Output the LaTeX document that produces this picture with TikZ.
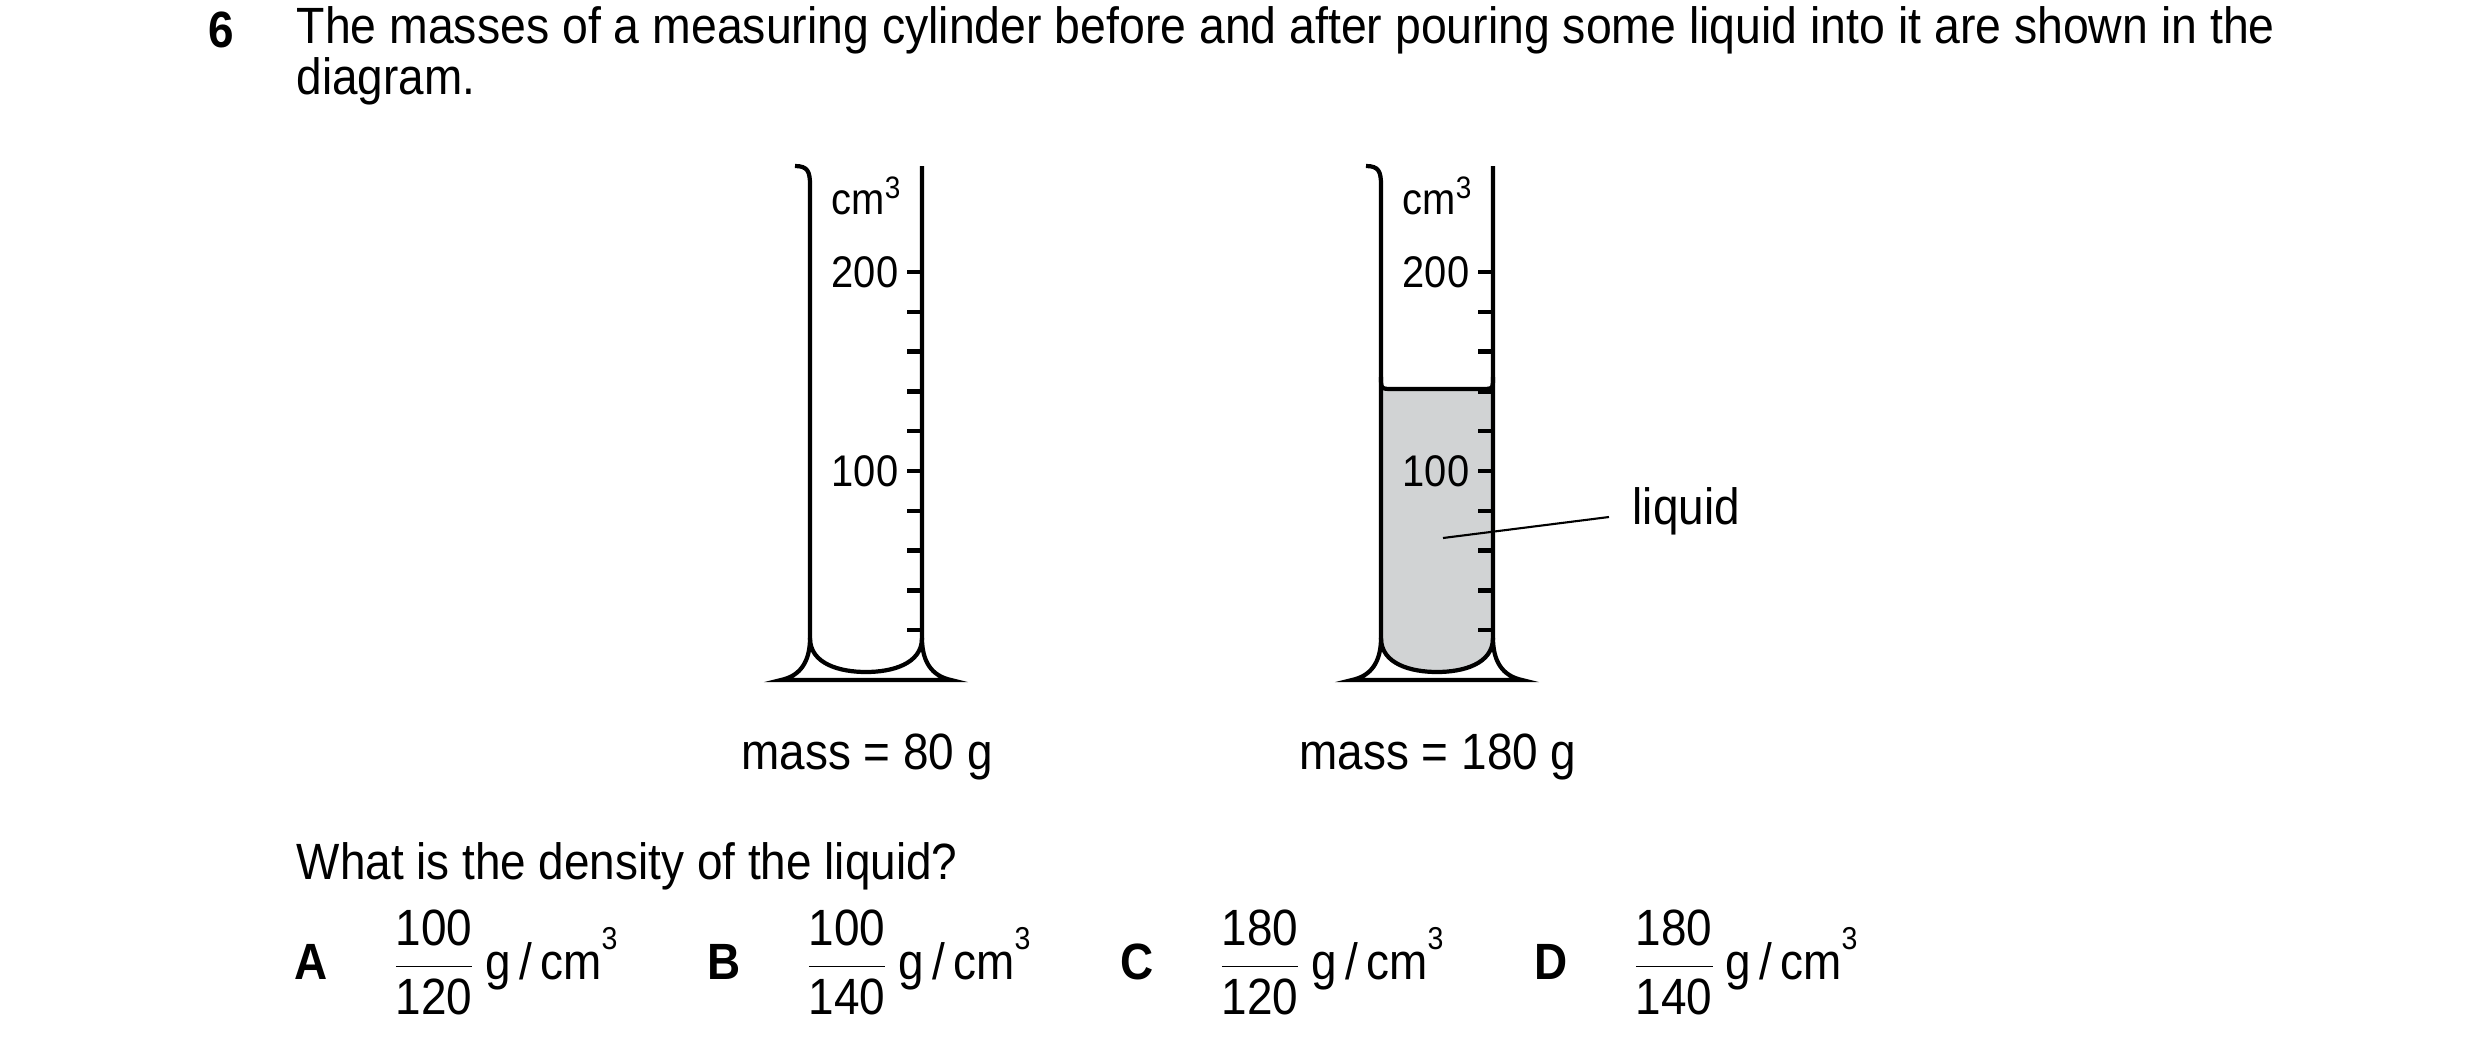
\documentclass[tikz,border=0pt]{standalone}
\usepackage{fontspec}
\setmainfont{Liberation Sans}[FakeStretch=0.9]
\usetikzlibrary{positioning}
\definecolor{liquidgrey}{RGB}{209,211,212}
\tikzset{glass/.style={line width=1.2pt, black},
  txt/.style={inner sep=0pt, font=\fontsize{14.5}{17}\selectfont},
  lbl/.style={inner sep=0pt, font=\fontsize{12.6}{15}\selectfont, anchor=east}}
\begin{document}
\begin{tikzpicture}[x=0.01cm,y=-0.01cm]
\useasboundingbox (0,0) rectangle (2480,1048);
% question
\node[txt, font=\fontsize{14.5}{17}\selectfont\bfseries] (num) at (221,30) {6};
\node[txt, anchor=west] (q1) at (296,30) {\addfontfeature{FakeStretch=0.91}The masses of a measuring cylinder before and after pouring some liquid into it are shown in the};
\node[txt, anchor=west] (q2) at (296,81) {diagram.};
% liquid in the second cylinder
\fill[liquidgrey] (1381,389) -- (1381,638) .. controls (1381,664) and (1411,672) .. (1437,672)
  .. controls (1463,672) and (1493,664) .. (1493,638) -- (1493,389) -- cycle;
\draw[glass] (1381,377) .. controls (1381,389) .. (1393,389) -- (1481,389) .. controls (1493,389) .. (1493,377);
% the two cylinders
\foreach \dx/\name in {810/a,1381/b}{
\begin{scope}[shift={(\dx,0)}]
\draw[glass] (-15,166) .. controls (-2,166) and (0,172) .. (0,185) -- (0,638)
  .. controls (0,664) and (30,672) .. (56,672) .. controls (82,672) and (112,664) .. (112,638) -- (112,166);
\draw[glass] (0,638) .. controls (0,662) and (-10,676) .. (-29,680) -- (141,680)
  .. controls (122,676) and (112,662) .. (112,638);
\foreach \k in {0,...,9}
  \draw[glass] (97,272+39.8*\k) -- (112,272+39.8*\k);
\node[lbl, anchor=center] (unit\name) at (57,196) {cm\textsuperscript{3}};
\node[lbl] (top\name) at (89,272) {200};
\node[lbl] (mid\name) at (89,471) {100};
\end{scope}
}
\node[txt] (massa) at (867,757) {mass = 80 g};
\node[txt] (massb) at (1438,757) {mass = 180 g};
% label
\node[txt, anchor=west] (liq) at (1632,511) {liquid};
\coordinate (drop) at (1443,538);
\coordinate (tip) at (1609,517);
\draw[line width=0.6pt] (drop) -- (tip);
% answers
\node[txt, anchor=west] (ask) at (296,866) {What is the density of the liquid?};
\foreach \x/\l/\n/\d in {311/A/100/120, 724/B/100/140, 1137/C/180/120, 1551/D/180/140}{
\node[txt, font=\fontsize{14.5}{17}\selectfont\bfseries] (opt\l) at (\x,962) {\l};
\node[txt, anchor=west] (frac\l) at (\x+80,962) {$\displaystyle\frac{\mbox{\n}}{\mbox{\d}}$\,g\,/\,cm\raisebox{1.1ex}{\fontsize{9}{10}\selectfont 3}};
}
\end{tikzpicture}
\end{document}
